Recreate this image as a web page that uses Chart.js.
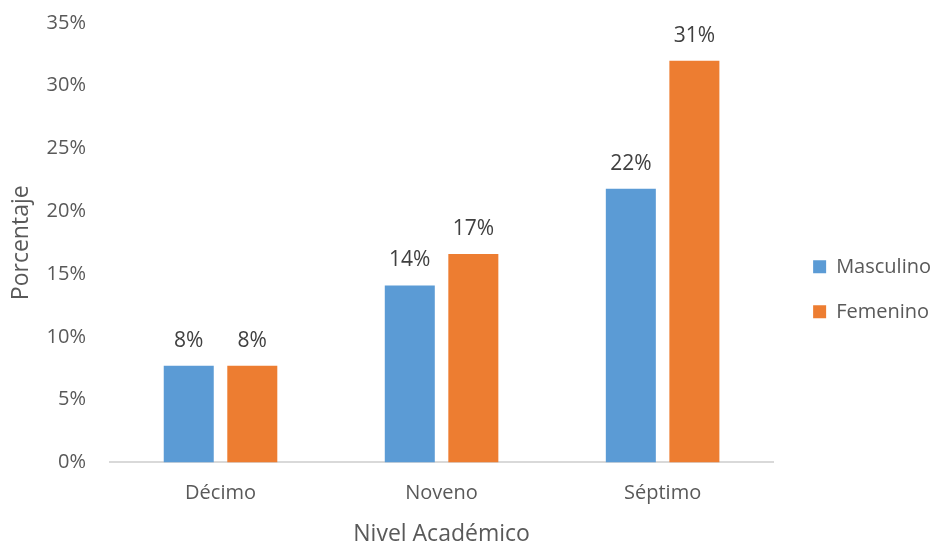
<!DOCTYPE html>
<html>
<head>
<meta charset="utf-8">
<script src="https://cdn.jsdelivr.net/npm/chart.js@4.4.0/dist/chart.umd.min.js"></script>
<style>
  body { margin: 0; background: #fff; }
  #wrap { width: 934px; height: 545px; }
</style>
</head>
<body>
<div id="wrap"><canvas id="chart" width="934" height="545"></canvas></div>
<script>
// === Données ===
const niveles = ['Décimo', 'Noveno', 'Séptimo'];
const masculino = [7.7, 14.1, 21.8];
const femenino = [7.7, 16.6, 32.0];
// étiquettes telles qu'affichées sur le graphique
const etiquetasMasculino = ['8%', '14%', '22%'];
const etiquetasFemenino = ['8%', '17%', '31%'];
const ticksY = [0, 5, 10, 15, 20, 25, 30, 35];

const fuente = '"Open Sans", "DejaVu Sans", sans-serif';

// petit plugin pour écrire les valeurs au-dessus des barres
const etiquetasPlugin = {
  id: 'etiquetas',
  afterDatasetsDraw(chart) {
    const ctx = chart.ctx;
    const textos = [etiquetasMasculino, etiquetasFemenino];
    ctx.save();
    ctx.font = '21px ' + fuente;
    ctx.fillStyle = '#404040';
    ctx.textAlign = 'center';
    ctx.textBaseline = 'middle';
    chart.data.datasets.forEach((ds, i) => {
      chart.getDatasetMeta(i).data.forEach((bar, j) => {
        ctx.fillText(textos[i][j], bar.x, bar.y - 25);
      });
    });
    ctx.restore();
  }
};

new Chart(document.getElementById('chart'), {
  type: 'bar',
  data: {
    labels: niveles,
    datasets: [
      { label: 'Masculino', data: masculino, backgroundColor: '#5B9BD5' },
      { label: 'Femenino', data: femenino, backgroundColor: '#ED7D31' }
    ]
  },
  options: {
    responsive: false,
    animation: false,
    layout: { padding: { top: 23, left: 8, right: -7, bottom: -1 } },
    datasets: { bar: { categoryPercentage: 0.575, barPercentage: 0.787 } },
    scales: {
      x: {
        grid: { display: false, drawTicks: false },
        border: { display: true, color: '#D9D9D9', width: 2 },
        ticks: { color: '#595959', font: { family: fuente, size: 20 }, padding: 19 },
        title: { display: true, text: 'Nivel Académico', color: '#595959', font: { family: fuente, size: 23, lineHeight: 0.85 }, padding: { top: 0, bottom: 2 } }
      },
      y: {
        min: 0,
        max: 35,
        afterBuildTicks: (axis) => { axis.ticks = ticksY.map(v => ({ value: v })); },
        afterFit: (axis) => {
          axis.width = 102;
          // le padding des ticks ne doit pas repousser le haut du graphique
          axis.paddingTop = 0;
          axis.paddingBottom = 0;
        },
        grid: { display: false, drawTicks: false },
        border: { display: false },
        ticks: { color: '#595959', font: { family: fuente, size: 20 }, padding: 24, callback: v => v + '%' },
        title: { display: true, text: 'Porcentaje', color: '#595959', font: { family: fuente, size: 23 }, padding: 0 }
      },
      // axe vide à droite, juste pour garder l'espace avant la légende
      espacio: {
        position: 'right',
        afterFit: (axis) => { axis.width = 15; axis.paddingTop = 0; axis.paddingBottom = 0; },
        grid: { display: false, drawTicks: false },
        border: { display: false },
        ticks: { display: false }
      }
    },
    plugins: {
      legend: {
        position: 'right',
        title: { display: true, text: ' ', padding: 0, font: { size: 8 } },
        labels: {
          color: '#595959',
          font: { family: fuente, size: 20 },
          boxWidth: 13,
          boxHeight: 13,
          padding: 25
        }
      },
      tooltip: { enabled: false }
    }
  },
  plugins: [etiquetasPlugin]
});
</script>
</body>
</html>
